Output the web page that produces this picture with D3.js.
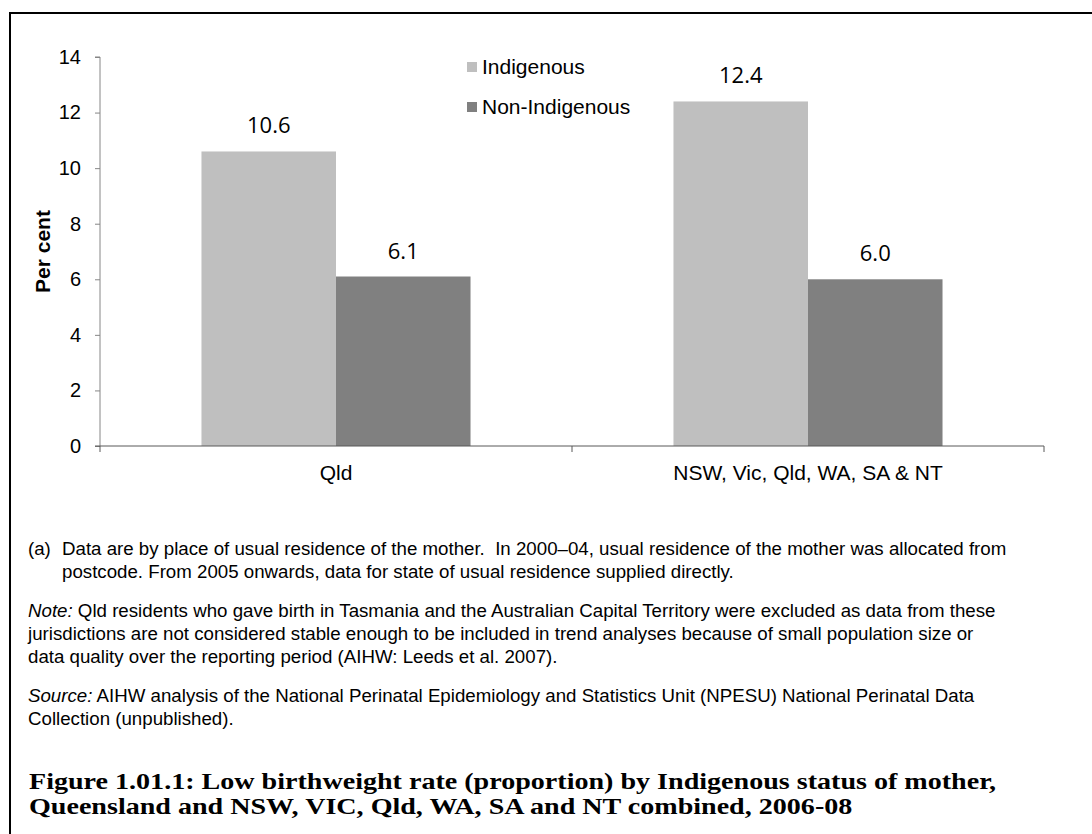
<!DOCTYPE html>
<html><head><meta charset="utf-8">
<script src="https://cdn.jsdelivr.net/npm/d3@7"></script>
<style>
html,body{margin:0;padding:0;background:#fff;}
svg text{white-space:pre;}
</style>
</head><body>
<svg id="c" width="1092" height="834"></svg>
<script>
const categories = ["Qld", "NSW, Vic, Qld, WA, SA & NT"];
const seriesNames = ["Indigenous", "Non-Indigenous"];
const indigenous = [10.6, 12.4];
const nonIndigenous = [6.1, 6.0];
const yTicks = [0, 2, 4, 6, 8, 10, 12, 14];
const colors = ["#bfbfbf", "#808080"];
const yTitle = "Per cent";
const footA = ["Data are by place of usual residence of the mother.  In 2000\u201304, usual residence of the mother was allocated from",
               "postcode. From 2005 onwards, data for state of usual residence supplied directly."];
const noteLines = [" Qld residents who gave birth in Tasmania and the Australian Capital Territory were excluded as data from these",
                   "jurisdictions are not considered stable enough to be included in trend analyses because of small population size or",
                   "data quality over the reporting period (AIHW: Leeds et al. 2007)."];
const sourceLines = [" AIHW analysis of the National Perinatal Epidemiology and Statistics Unit (NPESU) National Perinatal Data",
                     "Collection (unpublished)."];
const titleLines = ["Figure 1.01.1: Low birthweight rate (proportion) by Indigenous status of mother,",
                    "Queensland and NSW, VIC, Qld, WA, SA and NT combined, 2006-08"];

const svg = d3.select("#c");
const sans = "'Liberation Sans', Arial, sans-serif";

// frame (top and left visible)
svg.append("rect").attr("x", 10).attr("y", 13).attr("width", 1200).attr("height", 1000)
  .attr("fill", "none").attr("stroke", "#000").attr("stroke-width", 2);

const plot = {left: 100, right: 1044, top: 57, bottom: 446};
const y = d3.scaleLinear().domain([0, 14]).range([plot.bottom, plot.top]);
const x0 = d3.scaleBand().domain(categories).range([plot.left, plot.right]).padding(0);
const bw = x0.bandwidth();
const x1 = d3.scaleBand().domain(seriesNames).range([bw * 0.215, bw * 0.785]).padding(0);

const data = categories.map((c, i) => ({cat: c, vals: [indigenous[i], nonIndigenous[i]]}));

// bars
const g = svg.append("g");
data.forEach(d => {
  d.vals.forEach((v, j) => {
    const xs = x0(d.cat) + x1(seriesNames[j]);
    g.append("rect").attr("x", xs).attr("y", y(v))
      .attr("width", x1.bandwidth()).attr("height", y(0) - y(v))
      .attr("fill", colors[j]);
    g.append("text").attr("x", xs + x1.bandwidth() / 2).attr("y", y(v) - 18)
      .attr("text-anchor", "middle").attr("font-family", "'Open Sans', sans-serif")
      .attr("font-size", 22).attr("fill", "#000").text(v.toFixed(1));
  });
});

// y axis
const yAxis = d3.axisLeft(y).tickValues(yTicks).tickSize(5).tickPadding(14).tickFormat(d3.format("d"));
const ya = svg.append("g").attr("transform", `translate(${plot.left},0)`).call(yAxis);
ya.select(".domain").attr("stroke", "#868686").attr("d", `M-5,${plot.top}H0V${plot.bottom}`);
ya.selectAll(".tick line").attr("stroke", "#868686");
ya.selectAll(".tick text").attr("font-family", sans).attr("font-size", 20).attr("fill", "#000");

// x axis
const xAxis = d3.axisBottom(x0).tickSize(0).tickPadding(0);
const xa = svg.append("g").attr("transform", `translate(0,${plot.bottom})`).call(xAxis);
xa.select(".domain").attr("stroke", "#595959").attr("d", `M${plot.left - 5},0H${plot.right}`);
xa.selectAll(".tick text").attr("font-family", sans).attr("font-size", 21).attr("fill", "#000")
  .attr("dy", null).attr("y", 34);
// category boundary ticks
const bounds = categories.map(c => x0(c)).concat([x0(categories[categories.length - 1]) + bw]);
xa.selectAll(".bound").data(bounds).enter().append("line")
  .attr("x1", d => d).attr("x2", d => d).attr("y1", 0).attr("y2", 6)
  .attr("stroke", "#595959");

// y title
svg.append("text").attr("transform", `translate(50,${(plot.top + plot.bottom) / 2}) rotate(-90)`)
  .attr("text-anchor", "middle").attr("font-family", sans).attr("font-weight", "bold")
  .attr("font-size", 21).text(yTitle);

// legend
const lg = svg.append("g").attr("transform", "translate(467,62)");
seriesNames.forEach((s, i) => {
  lg.append("rect").attr("x", 0).attr("y", i * 40).attr("width", 10).attr("height", 10).attr("fill", colors[i]);
  lg.append("text").attr("x", 15).attr("y", i * 40 + 12).attr("font-family", sans)
    .attr("font-size", 21).text(s);
});

// footnotes
const fs = 18.7, lh = 23, fx = 28;
const ft = svg.append("g").attr("font-family", sans).attr("font-size", fs).attr("fill", "#000");
ft.append("text").attr("x", fx).attr("y", 555).text("(a)");
footA.forEach((t, i) => ft.append("text").attr("x", 62).attr("y", 555 + i * lh).text(t));
noteLines.forEach((t, i) => {
  const tx = ft.append("text").attr("x", fx).attr("y", 617 + i * lh);
  if (i === 0) tx.append("tspan").attr("font-style", "italic").text("Note:");
  tx.append("tspan").text(t);
});
sourceLines.forEach((t, i) => {
  const tx = ft.append("text").attr("x", fx).attr("y", 702 + i * lh);
  if (i === 0) tx.append("tspan").attr("font-style", "italic").text("Source:");
  tx.append("tspan").text(t);
});

// title
const tg = svg.append("g").attr("font-family", "'Liberation Serif', 'DejaVu Serif', serif")
  .attr("font-weight", "bold").attr("font-size", 23.5).attr("fill", "#000");
const tlines = titleLines.map((t, i) => tg.append("text").attr("x", 0).attr("y", 789 + i * 25).text(t));
const w0 = tlines[0].node().getComputedTextLength();
const sx = 968 / w0;
tg.attr("transform", `translate(29,0) scale(${sx},1)`);
</script>
</body></html>
